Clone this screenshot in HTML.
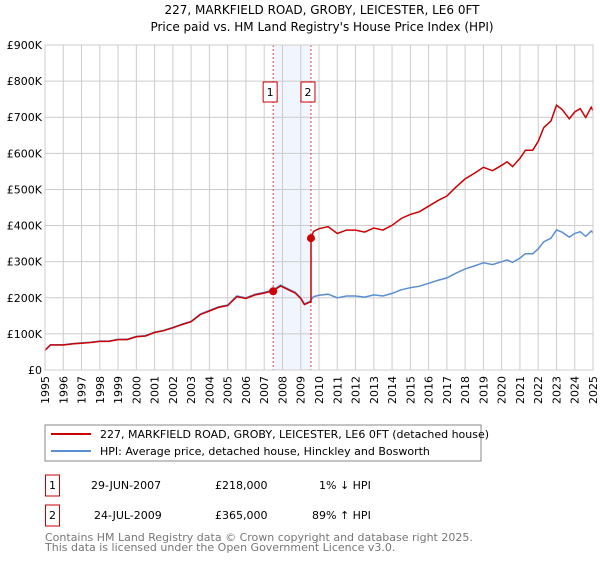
<!DOCTYPE html>
<html><head><meta charset="utf-8"><style>
body{margin:0;background:#fff;font-family:"Liberation Sans","DejaVu Sans",sans-serif;}
svg text{font-family:"DejaVu Sans","Liberation Sans",sans-serif;}
</style></head><body>
<svg id="chart" width="600" height="560" xmlns="http://www.w3.org/2000/svg">
<text x="322" y="14" text-anchor="middle" font-size="12">227, MARKFIELD ROAD, GROBY, LEICESTER, LE6 0FT</text>
<text x="322" y="31" text-anchor="middle" font-size="12">Price paid vs. HM Land Registry's House Price Index (HPI)</text>
<g id="grid"></g><g id="marks"></g><g id="axes"></g>
<rect x="45" y="425" width="436" height="36" fill="#fff" stroke="#888"/>
<line x1="51" y1="434" x2="91" y2="434" stroke="#cc0000" stroke-width="2"/>
<text x="100" y="438" font-size="11">227, MARKFIELD ROAD, GROBY, LEICESTER, LE6 0FT (detached house)</text>
<line x1="51" y1="451" x2="91" y2="451" stroke="#5b8fd4" stroke-width="2"/>
<text x="100" y="455" font-size="11">HPI: Average price, detached house, Hinckley and Bosworth</text>
<rect x="45.5" y="475" width="14" height="21" fill="none" stroke="#cc0000"/>
<text x="52.5" y="489" font-size="11" text-anchor="middle">1</text>
<text x="91" y="489" font-size="11">29-JUN-2007</text>
<text x="215" y="489" font-size="11">£218,000</text>
<text x="319" y="489" font-size="11">1% ↓ HPI</text>
<rect x="45.5" y="505" width="14" height="21" fill="none" stroke="#cc0000"/>
<text x="52.5" y="519" font-size="11" text-anchor="middle">2</text>
<text x="94" y="519" font-size="11">24-JUL-2009</text>
<text x="215" y="519" font-size="11">£365,000</text>
<text x="312" y="519" font-size="11">89% ↑ HPI</text>
<text x="45" y="541" font-size="11" fill="#777">Contains HM Land Registry data © Crown copyright and database right 2025.</text>
<text x="45" y="551" font-size="11" fill="#777">This data is licensed under the Open Government Licence v3.0.</text>
</svg>
<script>
const hpiYears=[1995,1995.3,1996,1996.5,1997,1997.5,1998,1998.5,1999,1999.5,2000,2000.5,2001,2001.5,2002,2002.5,2003,2003.5,2004,2004.5,2005,2005.5,2006,2006.5,2007,2007.5,2007.9,2008.3,2008.7,2009,2009.2,2009.5,2009.7,2010,2010.5,2011,2011.5,2012,2012.5,2013,2013.5,2014,2014.5,2015,2015.5,2016,2016.5,2017,2017.5,2018,2018.5,2019,2019.5,2020,2020.3,2020.6,2021,2021.3,2021.7,2022,2022.3,2022.7,2023,2023.3,2023.7,2024,2024.3,2024.6,2024.9,2025];
const hpiValues=[55,70,70,73,75,77,80,80,85,85,93,95,105,110,118,127,135,155,165,175,180,205,200,210,215,222,235,225,215,200,183,190,203,207,210,200,205,205,202,208,205,212,222,228,232,240,248,255,268,280,288,297,292,300,305,298,310,322,322,335,355,365,388,382,368,378,383,370,385,380];
const saleYears=[2007.49,2009.56];
const salePrices=[218000,365000];
const saleRatios=[0.99,1.89];
const yTicks=[0,100000,200000,300000,400000,500000,600000,700000,800000,900000];
const yTickLabels=["£0","£100K","£200K","£300K","£400K","£500K","£600K","£700K","£800K","£900K"];
const xTicks=[1995,1996,1997,1998,1999,2000,2001,2002,2003,2004,2005,2006,2007,2008,2009,2010,2011,2012,2013,2014,2015,2016,2017,2018,2019,2020,2021,2022,2023,2024,2025];

const L=45,R=593,T=45,B=370,NS="http://www.w3.org/2000/svg";
const xs=y=>L+(y-1995)/30*(R-L), ys=v=>B-v/900000*(B-T);
function mk(p,tag,a){const e=document.createElementNS(NS,tag);for(const k in a)e.setAttribute(k,a[k]);p.appendChild(e);return e;}
const grid=document.getElementById('grid'),marks=document.getElementById('marks'),axes=document.getElementById('axes');
let band=mk(grid,'rect',{x:xs(saleYears[0]),y:T,width:xs(saleYears[1])-xs(saleYears[0]),height:B-T,fill:'#eef3fc',opacity:0.8});


xTicks.forEach(t=>{let g=mk(grid,'line',{x1:xs(t),x2:xs(t),y1:T,y2:B,stroke:'#ccc'});


let tx=mk(axes,'text',{x:0,y:0,'font-size':11,'text-anchor':'end',transform:`translate(${xs(t)+4},${B+6}) rotate(-90)`});
tx.textContent=t;

});
yTicks.forEach((t,i)=>{let g=mk(grid,'line',{x1:L,x2:R,y1:ys(t),y2:ys(t),stroke:'#ccc'});


let tx=mk(axes,'text',{x:L-3,y:ys(t)+4,'font-size':11,'text-anchor':'end'});
tx.textContent=yTickLabels[i];

});
saleYears.forEach((s,i)=>{let l=mk(grid,'line',{x1:xs(s),x2:xs(s),y1:T,y2:B,stroke:'#e04040','stroke-dasharray':'2,2'});


let bx=mk(axes,'rect',{x:xs(s)-10,y:82,width:14,height:20,fill:'#fff',stroke:'#cc0000'});


let t=mk(axes,'text',{x:xs(s)-3,y:96,'font-size':11,'text-anchor':'middle'});t.textContent=i+1;});
let hp=hpiYears.map((y,i)=>xs(y).toFixed(1)+','+ys(hpiValues[i]*1000).toFixed(1)).join(' ');
let hl=mk(marks,'polyline',{points:hp,fill:'none',stroke:'#5b8fd4','stroke-width':1.5});


let pts=[];
hpiYears.forEach((y,i)=>{if(y<=saleYears[1])pts.push([y,hpiValues[i]*1000*saleRatios[0]]);});
pts.push([saleYears[1],hpiValues[hpiYears.findIndex(y=>y>saleYears[1])-1]*1000*saleRatios[0]]);
pts.push([saleYears[1],salePrices[1]]);
hpiYears.forEach((y,i)=>{if(y>saleYears[1])pts.push([y,hpiValues[i]*1000*saleRatios[1]]);});
let pl=mk(marks,'polyline',{points:pts.map(p=>xs(p[0]).toFixed(1)+','+ys(p[1]).toFixed(1)).join(' '),fill:'none',stroke:'#cc0000','stroke-width':1.5});


saleYears.forEach((s,i)=>{let c=mk(marks,'circle',{cx:xs(s),cy:ys(salePrices[i]),r:4,fill:'#cc0000'});

});
let ax=mk(axes,'rect',{x:L,y:T,width:R-L,height:B-T,fill:'none',stroke:'#ccc'});


</script>
</body></html>
